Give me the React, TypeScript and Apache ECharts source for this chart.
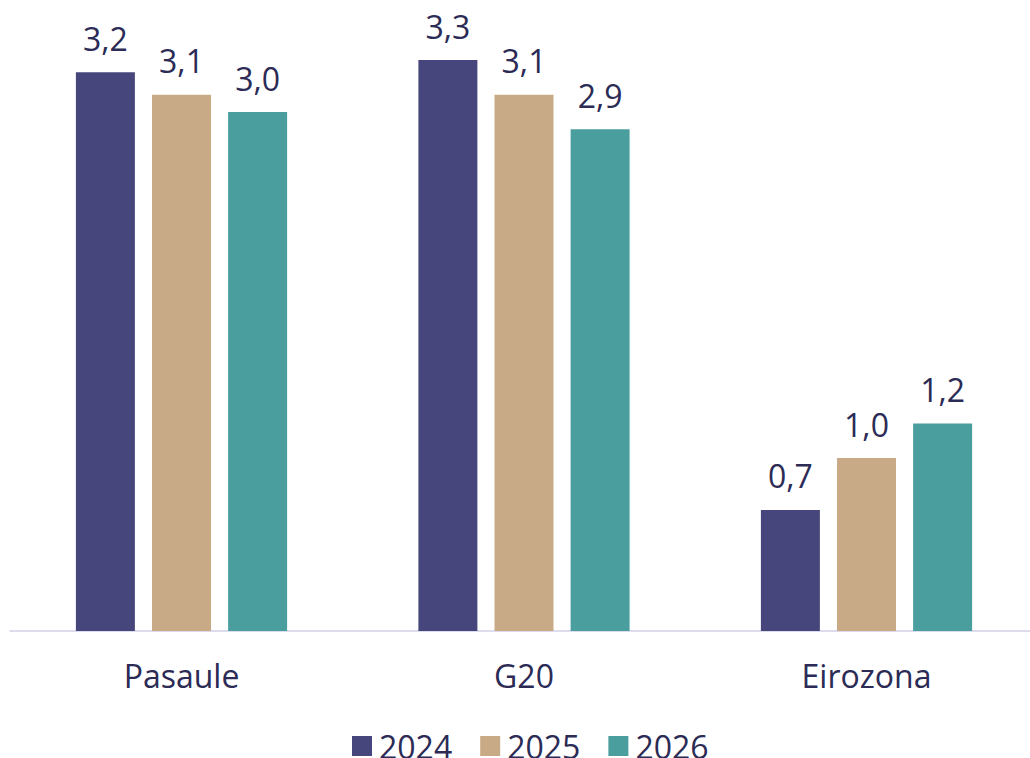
import React, { useEffect, useRef } from "react";
import * as echarts from "echarts";

const categories = ["Pasaule", "G20", "Eirozona"];
const seriesNames = ["2024", "2025", "2026"];
const values2024 = [3.23, 3.3, 0.7];
const values2025 = [3.1, 3.1, 1.0];
const values2026 = [3.0, 2.9, 1.2];
const colors = ["#46467c", "#c9aa86", "#4a9e9e"];
const textColor = "#2b2b55";
const font = "'Open Sans', sans-serif";

export default function App() {
  const ref = useRef<HTMLDivElement>(null);
  useEffect(() => {
    const chart = echarts.init(ref.current!, null, { renderer: "svg" });
    const data = [values2024, values2025, values2026];
    chart.setOption({
      animation: false,
      textStyle: { fontFamily: font },
      grid: { left: 10.25, right: 2.25, top: 25.5, height: 605.5, containLabel: false },
      legend: {
        top: 725,
        left: 347,
        itemWidth: 20,
        itemHeight: 20,
        itemGap: 28,
        icon: "rect",
        textStyle: { fontSize: 32, lineHeight: 30, color: textColor, fontFamily: font, padding: [0, 0, 0, 2] },
        data: seriesNames,
      },
      xAxis: {
        type: "category",
        data: categories,
        axisLine: { lineStyle: { color: "#dcdcec", width: 2 } },
        axisTick: { show: false },
        axisLabel: { fontSize: 32, color: textColor, margin: 28, fontFamily: font },
      },
      yAxis: { type: "value", min: 0, max: 3.5, show: false, splitLine: { show: false } },
      series: seriesNames.map((name, i) => ({
        name,
        type: "bar",
        data: data[i],
        barWidth: 59,
        barGap: "29%",
        itemStyle: { color: colors[i] },
        label: {
          show: true,
          position: "top",
          distance: 18,
          fontSize: 32,
          color: textColor,
          fontFamily: font,
          formatter: (p: any) => p.value.toFixed(1).replace(".", ","),
        },
      })),
    });
    return () => chart.dispose();
  }, []);
  return (
    <div style={{ position: "fixed", left: 0, top: 0, width: 1030, height: 758, overflow: "hidden", background: "#fff" }}>
      <div ref={ref} style={{ width: 1040, height: 758 }} />
    </div>
  );
}
